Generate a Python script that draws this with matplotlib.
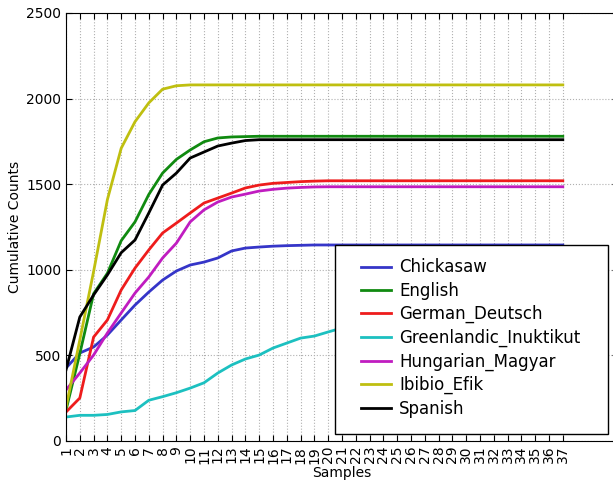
import matplotlib
matplotlib.use("Agg")
import matplotlib.pyplot as plt
from matplotlib.patches import Rectangle
import numpy as np

samples = [str(i) for i in range(1, 38)]

chickasaw = [426, 514, 549, 619, 707, 794, 870, 940, 993, 1028, 1045, 1069, 1110, 1127,
             1133, 1138, 1141, 1143, 1145] + [1145] * 18
english = [180, 510, 860, 980, 1170, 1280, 1440, 1565, 1645, 1700, 1748, 1770, 1776,
           1778] + [1780] * 23
german = [169, 251, 607, 707, 882, 1010, 1116, 1215, 1273, 1332, 1390, 1419, 1448, 1478,
          1495, 1505, 1510, 1515, 1518] + [1520] * 18
greenlandic = [140, 150, 150, 155, 170, 178, 238, 259, 282, 309, 340, 397, 444, 479, 502,
               543, 572, 601, 613, 637, 660, 680, 700, 715, 730, 742, 752, 760, 768, 775,
               780, 785, 788, 790, 792, 793, 794]
hungarian = [298, 397, 502, 631, 748, 864, 958, 1069, 1156, 1280, 1350, 1396, 1425, 1442,
             1460, 1470, 1477, 1481, 1484] + [1485] * 18
ibibio = [195, 590, 990, 1410, 1710, 1865, 1975, 2055, 2075] + [2080] * 28
spanish = [415, 724, 853, 970, 1100, 1174, 1332, 1495, 1565, 1653, 1688, 1723, 1740,
           1755] + [1760] * 23

series = [
    ("Chickasaw", chickasaw, "#3535c8"),
    ("English", english, "#108a10"),
    ("German_Deutsch", german, "#ee1c1c"),
    ("Greenlandic_Inuktikut", greenlandic, "#1cc0c0"),
    ("Hungarian_Magyar", hungarian, "#c01cc0"),
    ("Ibibio_Efik", ibibio, "#bfbf10"),
    ("Spanish", spanish, "#000000"),
]

W, H = 613, 484
fig = plt.figure(figsize=(W / 100, H / 100), dpi=100)
ax = fig.add_axes([66 / W, 1 - 441 / H, (618 - 66) / W, (441 - 13) / H])

x = np.arange(len(samples))
for name, vals, col in series:
    ax.plot(x, vals, color=col, lw=2, label=name)

ax.set_xlim(0, 40)
ax.set_ylim(0, 2500)
ax.set_xticks(x)
ax.set_xticklabels(samples, rotation=90, fontsize=10)
ax.set_yticks([0, 500, 1000, 1500, 2000, 2500])
ax.tick_params(axis="y", labelsize=10)
ax.tick_params(direction="in", top=True, right=True, length=4)
ax.grid(True, color="#b0b0b0", linestyle=":", linewidth=0.8)
ax.set_xlabel("Samples", fontsize=10, labelpad=2)
ax.set_ylabel("Cumulative Counts", fontsize=10, labelpad=3)

# legend frame drawn separately so the padding matches the original
frame = Rectangle((335 / W, 1 - 434 / H), (608 - 335) / W, (434 - 245) / H,
                  transform=fig.transFigure, facecolor="white", edgecolor="black",
                  linewidth=1.0, zorder=4.9, clip_on=False)
ax.add_artist(frame)

leg = ax.legend(loc="center left", bbox_to_anchor=(361 / W, 1 - 338 / H),
                bbox_transform=fig.transFigure, borderaxespad=0, fontsize=12,
                handlelength=1.8, handletextpad=0.5, labelspacing=0.32,
                borderpad=0, frameon=False)
leg.set_zorder(5)

fig.savefig("out.png", dpi=100)
